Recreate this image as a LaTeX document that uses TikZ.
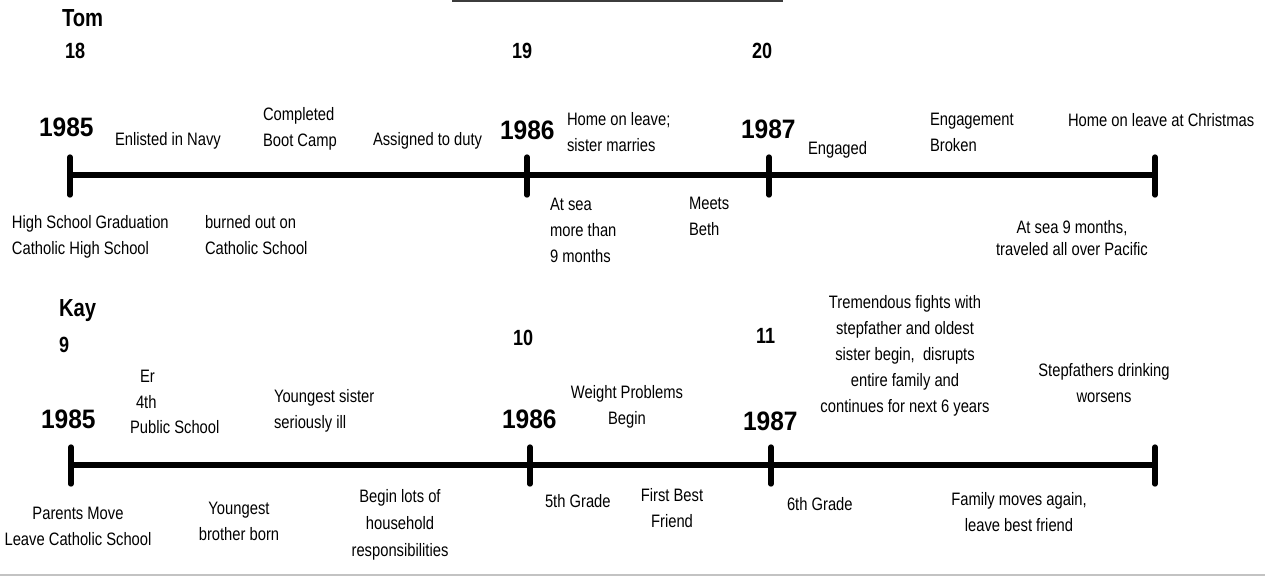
\documentclass[tikz,border=0pt]{standalone}
\usepackage{fontspec}
\setmainfont[FakeStretch=0.82]{Liberation Sans}
\newfontfamily\yrfont[FakeStretch=0.92]{Liberation Sans Bold}
\usetikzlibrary{positioning,calc}
\definecolor{rulegray}{RGB}{60,60,60}
\definecolor{edgegray}{RGB}{195,195,195}

\begin{document}
\begin{tikzpicture}[
  x=0.75pt, y=-0.75pt,
  every node/.style={inner sep=0pt, outer sep=0pt},
  lbl/.style={font=\fontsize{13.5}{19.5}\selectfont, align=left, anchor=north west},
  lblc/.style={font=\fontsize{13.5}{19.5}\selectfont, align=center, anchor=north},
  yr/.style={font=\yrfont\fontsize{20}{24}\selectfont, anchor=north west},
  age/.style={font=\bfseries\fontsize{16.5}{19}\selectfont, anchor=north west},
  who/.style={font=\bfseries\fontsize{18.5}{22}\selectfont, anchor=north west},
  axis/.style={line width=4.5pt},
  tick/.style={line width=4pt, line cap=round}
]
\useasboundingbox (0,0) rectangle (1265,576);

% page rules
\draw[rulegray, line width=1.5pt] (452,1) -- (783,1);
\draw[edgegray, line width=1.5pt] (0,574.5) -- (1265,574.5);

% ---- Tom ----
\node[who] (tom) at (62,10) {Tom};
\node[age] (tom18) at (65,43) {18};
\node[age] (tom19) at (512,43) {19};
\node[age] (tom20) at (752,43) {20};
\node[yr] (tom85) at (39,118) {1985};
\node[yr] (tom86) at (500,121) {1986};
\node[yr] (tom87) at (741,120) {1987};

\coordinate (tomA) at (70,175);
\coordinate (tomB) at (527,175);
\coordinate (tomC) at (769,175);
\coordinate (tomD) at (1155,175);
\draw[axis] (tomA) -- (tomD);
\draw[tick] (tomA) ++(0,-18) -- ++(0,38);
\draw[tick] (tomB) ++(0,-18) -- ++(0,38);
\draw[tick] (tomC) ++(0,-18) -- ++(0,38);
\draw[tick] (tomD) ++(0,-18) -- ++(0,38);

\node[lbl] (navy) at (115,132) {Enlisted in Navy};
\node[lbl] (boot) at (263,107) {Completed\\Boot Camp};
\node[lbl] (duty) at (373,132) {Assigned to duty};
\node[lbl] (leave) at (567,112) {Home on leave;\\sister marries};
\node[lbl] (engaged) at (808,141) {Engaged};
\node[lbl] (broken) at (930,113) {Engagement\\Broken};
\node[lbl] (xmas) at (1068,113) {Home on leave at Christmas};

\node[lbl] (grad) at (12,215) {High School Graduation\\Catholic High School};
\node[lbl] (burned) at (205,215) {burned out on\\Catholic School};
\node[lbl] (sea) at (550,198) {At sea\\more than\\9 months};
\node[lbl] (beth) at (689,197) {Meets\\Beth};
\node[lblc] (pacific) at (1072,220) {At sea 9 months,\\[-2.5pt]traveled all over Pacific};

% ---- Kay ----
\node[who] (kay) at (59,300) {Kay};
\node[age] (kay9) at (59,337) {9};
\node[age] (kay10) at (513,330) {10};
\node[age] (kay11) at (756,328) {11};
\node[yr] (kay85) at (41,410) {1985};
\node[yr] (kay86) at (502,410) {1986};
\node[yr] (kay87) at (743,412) {1987};

\coordinate (kayA) at (71,465);
\coordinate (kayB) at (530,465);
\coordinate (kayC) at (771,465);
\coordinate (kayD) at (1155,465);
\draw[axis] (kayA) -- (kayD);
\draw[tick] (kayA) ++(0,-18) -- ++(0,37);
\draw[tick] (kayB) ++(0,-18) -- ++(0,37);
\draw[tick] (kayC) ++(0,-18) -- ++(0,37);
\draw[tick] (kayD) ++(0,-18) -- ++(0,37);

\node[lbl] (er) at (140,370) {Er};
\node[lbl] (fourth) at (136,395) {4th};
\node[lbl] (public) at (130,420) {Public School};
\node[lbl] (ill) at (274,389) {Youngest sister\\seriously ill};
\node[lblc] (weight) at (627,385) {Weight Problems\\Begin};
\node[lblc] (fights) at (905,295) {Tremendous fights with\\stepfather and oldest\\sister begin,~ disrupts\\entire family and\\continues for next 6 years};
\node[lblc] (drinking) at (1104,363) {Stepfathers drinking\\worsens};

\node[lblc] (move) at (78,507) {Parents Move\\Leave Catholic School};
\node[lblc] (brother) at (239,502) {Youngest\\brother born};
\node[lblc] (chores) at (400,489) {Begin lots of\\[1pt]household\\[1pt]responsibilities};
\node[lbl] (grade5) at (545,494) {5th Grade};
\node[lblc] (friend) at (672,488) {First Best\\Friend};
\node[lbl] (grade6) at (787,497) {6th Grade};
\node[lblc] (again) at (1019,492) {Family moves again,\\leave best friend};
\end{tikzpicture}
\end{document}
